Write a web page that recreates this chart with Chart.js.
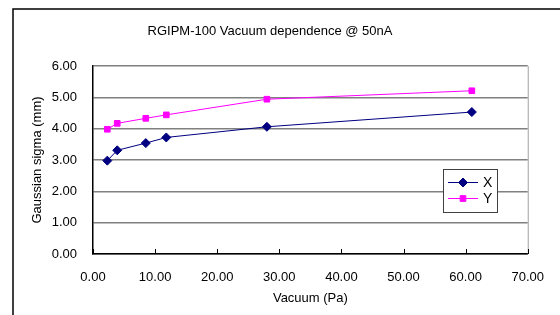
<!DOCTYPE html>
<html>
<head>
<meta charset="utf-8">
<script src="https://cdn.jsdelivr.net/npm/chart.js@4/dist/chart.umd.min.js"></script>
<style>
  html, body { margin: 0; padding: 0; background: #fff; }
  #wrap { width: 560px; height: 315px; position: relative; }
</style>
</head>
<body>
<div id="wrap"><canvas id="chart" width="560" height="315"></canvas></div>
<script>
// ===== DATA =====
const vacuum = [2.3, 3.9, 8.5, 11.8, 28.0, 61.0];
const sigmaX = [2.98, 3.31, 3.54, 3.72, 4.06, 4.53];
const sigmaY = [3.98, 4.17, 4.33, 4.44, 4.94, 5.21];
const seriesNames = ["X", "Y"];

const FONT = "'Liberation Sans', Arial, sans-serif";

// khung ngoài + đường viền phải + tick hướng vào trong + legend
const extras = {
  id: "extras",
  beforeDraw(chart) {
    const ctx = chart.ctx;
    ctx.save();
    ctx.fillStyle = "#fff";
    ctx.fillRect(0, 0, chart.width, chart.height);
    ctx.strokeStyle = "#000";
    ctx.lineWidth = 1.5;
    ctx.strokeRect(13, 9, 700, 500);
    ctx.restore();
  },
  beforeDatasetsDraw(chart) {
    const { ctx, chartArea: a, scales } = chart;
    ctx.save();
    ctx.strokeStyle = "#a0a0a0";
    ctx.lineWidth = 1;
    ctx.beginPath();
    ctx.moveTo(a.right + 0.5, a.top);
    ctx.lineTo(a.right + 0.5, a.bottom);
    ctx.stroke();
    ctx.strokeStyle = "#000";
    ctx.beginPath();
    scales.x.ticks.forEach(t => {
      const px = Math.round(scales.x.getPixelForValue(t.value)) + 0.5;
      ctx.moveTo(px, a.bottom);
      ctx.lineTo(px, a.bottom - 5);
    });
    ctx.stroke();
    ctx.restore();
  },
  afterDraw(chart) {
    const ctx = chart.ctx;
    const bx = 443, by = 169, bw = 54, bh = 43;
    ctx.save();
    ctx.fillStyle = "#fff";
    ctx.fillRect(bx, by, bw, bh);
    ctx.strokeStyle = "#404040";
    ctx.lineWidth = 1;
    ctx.strokeRect(bx + 0.5, by + 0.5, bw, bh);
    chart.data.datasets.forEach((ds, i) => {
      const y = by + 13 + i * 16;
      ctx.strokeStyle = ds.borderColor;
      ctx.fillStyle = ds.borderColor;
      ctx.lineWidth = 1;
      ctx.beginPath();
      ctx.moveTo(bx + 5, y + 0.5);
      ctx.lineTo(bx + 35, y + 0.5);
      ctx.stroke();
      Chart.helpers.drawPoint(ctx, {
        pointStyle: ds.pointStyle, radius: ds.pointRadius, borderWidth: 1
      }, bx + 20, y + 0.5);
      ctx.fillStyle = "#000";
      ctx.font = "14px " + FONT;
      ctx.textBaseline = "middle";
      ctx.fillText(ds.label, bx + 40, y + 1);
    });
    ctx.restore();
  }
};

function makeDataset(label, ys, color, style, r) {
  return {
    label: label,
    data: vacuum.map((v, i) => ({ x: v, y: ys[i] })),
    borderColor: color,
    backgroundColor: color,
    pointBackgroundColor: color,
    pointBorderColor: color,
    pointStyle: style,
    pointRadius: r,
    borderWidth: 1,
    tension: 0
  };
}

new Chart(document.getElementById("chart"), {
  type: "line",
  data: {
    datasets: [
      makeDataset(seriesNames[0], sigmaX, "#000080", "rectRot", 4.5),
      makeDataset(seriesNames[1], sigmaY, "#ff00ff", "rect", 4)
    ]
  },
  options: {
    responsive: false,
    animation: false,
    layout: { padding: { left: 5, right: 25, top: 0, bottom: 0 } },
    plugins: {
      legend: { display: false },
      tooltip: { enabled: false },
      title: {
        display: true,
        text: "RGIPM-100 Vacuum dependence @ 50nA",
        color: "#000",
        font: { family: FONT, size: 13, weight: "normal" },
        padding: { top: 24, bottom: 26.4 }
      }
    },
    scales: {
      x: {
        type: "linear",
        min: 0, max: 70,
        afterFit: s => { s.height = 61; },
        ticks: {
          stepSize: 10,
          color: "#000",
          padding: 16,
          maxRotation: 0,
          font: { family: FONT, size: 13 },
          callback: v => v.toFixed(2)
        },
        grid: { display: false, drawTicks: false },
        border: { color: "#000", width: 1.5 },
        title: {
          display: true,
          text: "Vacuum (Pa)",
          color: "#000",
          font: { family: FONT, size: 13 },
          padding: { top: 4, bottom: 9 }
        }
      },
      y: {
        min: 0, max: 6,
        afterFit: s => { s.width = 88; },
        ticks: {
          stepSize: 1,
          color: "#000",
          padding: 16,
          font: { family: FONT, size: 13 },
          callback: v => v.toFixed(2)
        },
        grid: { color: "#808080", lineWidth: 1.5, drawTicks: false },
        border: { color: "#000", width: 1.5 },
        title: {
          display: true,
          text: "Gaussian sigma (mm)",
          color: "#000",
          font: { family: FONT, size: 13 },
          padding: { top: 25, bottom: 0 }
        }
      }
    }
  },
  plugins: [extras]
});
</script>
</body>
</html>
